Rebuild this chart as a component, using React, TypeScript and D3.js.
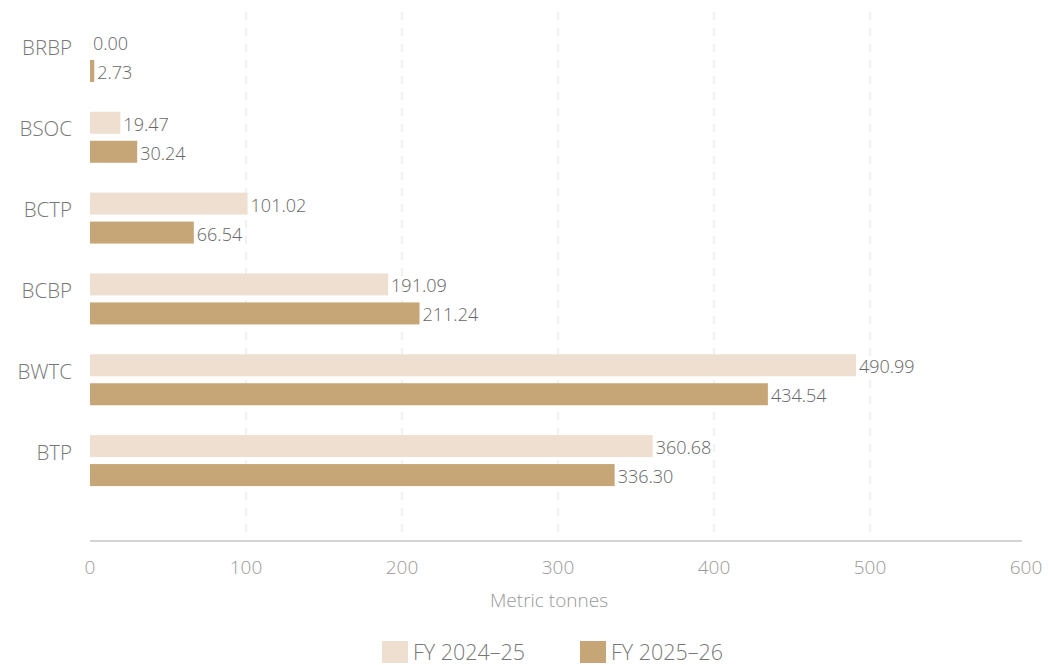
import React from "react";
import * as d3 from "d3";

const categories = ["BRBP", "BSOC", "BCTP", "BCBP", "BWTC", "BTP"];
const fy2425 = [0.0, 19.47, 101.02, 191.09, 490.99, 360.68];
const fy2526 = [2.73, 30.24, 66.54, 211.24, 434.54, 336.3];
const seriesNames = ["FY 2024–25", "FY 2025–26"];
const xTicks = [0, 100, 200, 300, 400, 500, 600];

const W = 1049;
const H = 665;
const FONT = "'Open Sans', sans-serif";
const colors = ["#EEDFD0", "#C6A577"];

export default function App() {
  const x = d3.scaleLinear().domain([0, 600]).range([90, 1026]);
  const y = d3.scaleBand().domain(categories).range([16, 501]).paddingInner(0).paddingOuter(0);
  const barH = 22;
  const gap = 7;
  const axisY = 541;
  const series = [fy2425, fy2526];

  return (
    <svg width={W} height={H} style={{ position: "absolute", left: 0, top: 0, fontFamily: FONT }}>
      {xTicks.slice(1, -1).map((t) => (
        <line key={t} x1={x(t)} x2={x(t)} y1={12} y2={axisY} stroke="#f0f0f0" strokeWidth={2} strokeDasharray="8 8" />
      ))}
      <line x1={x(0)} x2={1022} y1={axisY} y2={axisY} stroke="#d4d4d4" strokeWidth={2} />
      {xTicks.map((t) => (
        <text key={t} x={x(t)} y={574} textAnchor="middle" fontSize={19} fill="#9a9a9a" fontWeight={300}>
          {t}
        </text>
      ))}
      <text x={549} y={607} textAnchor="middle" fontSize={19} fill="#999" fontWeight={300}>
        Metric tonnes
      </text>
      {categories.map((c, i) => {
        const cy = (y(c) as number) + y.bandwidth() / 2;
        return (
          <g key={c}>
            <text x={72} y={cy - 9} textAnchor="end" dominantBaseline="central" fontSize={20.5} fill="#777" fontWeight={300}>
              {c}
            </text>
            {series.map((s, k) => {
              const top = k === 0 ? cy - gap / 2 - barH : cy + gap / 2;
              const w = x(s[i]) - x(0);
              return (
                <g key={k}>
                  {w > 0 && <rect x={x(0)} y={top} width={w} height={barH} fill={colors[k]} />}
                  <text x={x(s[i]) + 3} y={top + barH / 2 + 1} dominantBaseline="central" fontSize={18} fill="#666" fontWeight={300}>
                    {s[i].toFixed(2)}
                  </text>
                </g>
              );
            })}
          </g>
        );
      })}
      {seriesNames.map((n, k) => {
        const lx = k === 0 ? 382 : 580;
        return (
          <g key={n}>
            <rect x={lx} y={641} width={26} height={22} fill={colors[k]} />
            <text x={lx + 31} y={651} dominantBaseline="central" fontSize={21.5} fill="#777" fontWeight={300}>
              {n}
            </text>
          </g>
        );
      })}
    </svg>
  );
}
